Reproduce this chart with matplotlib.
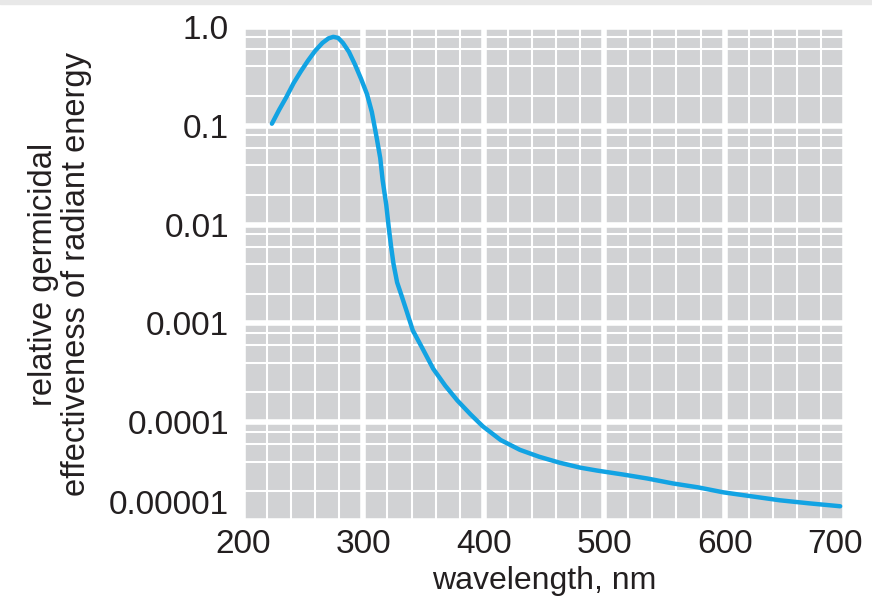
import matplotlib
matplotlib.use("Agg")
import matplotlib.pyplot as plt
import matplotlib.transforms as mtransforms
from matplotlib.ticker import LogLocator, MultipleLocator, FixedLocator, FixedFormatter
from matplotlib.patches import Rectangle

# germicidal action spectrum
wavelength = [224, 230, 236, 242, 248, 254, 260, 266, 271, 275, 279, 283, 288, 293, 298,
              303, 307, 311, 314, 316, 319, 321, 323, 325, 328, 332, 336, 341, 349, 358,
              368, 378, 389, 399, 414, 430, 446, 463, 480, 494, 516, 536, 557, 578, 599,
              622, 646, 670, 696]
effectiveness = [0.105, 0.145, 0.195, 0.27, 0.355, 0.457, 0.575, 0.69, 0.767, 0.795, 0.776,
                 0.69, 0.56, 0.417, 0.30, 0.209, 0.138, 0.076, 0.047, 0.028, 0.0158, 0.0095,
                 0.0060, 0.0040, 0.0026, 0.00186, 0.00132, 0.00085, 0.00056, 0.000347,
                 0.000234, 0.000166, 0.00012, 0.0000912, 0.000066, 0.0000525, 0.0000447,
                 0.0000389, 0.0000347, 0.0000324, 0.0000295, 0.0000269, 0.000024, 0.0000219,
                 0.0000195, 0.0000178, 0.0000162, 0.0000151, 0.0000141]

x_ticks = [200, 300, 400, 500, 600, 700]
y_ticks = [1e-5, 1e-4, 1e-3, 1e-2, 1e-1, 1.0]
y_labels = ["0.00001", "0.0001", "0.001", "0.01", "0.1", "1.0"]

plt.rcParams['font.family'] = ['Liberation Sans', 'DejaVu Sans']

fig = plt.figure(figsize=(8.72, 6.11), dpi=100)
fig.patches.append(Rectangle((0, 1 - 4 / 611), 1, 4 / 611, transform=fig.transFigure,
                             color="#e8e8e8", zorder=0))
ax = fig.add_axes([243 / 872, 1 - 521 / 611, (845 - 243) / 872, (521 - 27) / 611])
ax.set_facecolor("#d1d2d4")
for s in ax.spines.values():
    s.set_visible(False)

ax.plot(wavelength, effectiveness, color="#12a3e3", lw=3.2, solid_capstyle="round",
        solid_joinstyle="round", zorder=3)

ax.set_yscale("log")
ax.set_xlim(200, 700)
ax.set_ylim(1e-5, 1.0)

ax.xaxis.set_major_locator(FixedLocator(x_ticks))
ax.xaxis.set_minor_locator(MultipleLocator(20))
ax.yaxis.set_major_locator(FixedLocator(y_ticks))
ax.yaxis.set_major_formatter(FixedFormatter(y_labels))
ax.yaxis.set_minor_locator(LogLocator(base=10, subs=[2, 4, 6, 8]))
ax.yaxis.set_minor_formatter(FixedFormatter([]))

ax.set_axisbelow(True)
ax.grid(which="major", color="white", lw=4.0)
ax.grid(which="minor", color="white", lw=1.5)
ax.tick_params(which="both", length=0)
ax.tick_params(axis="y", labelsize=24, pad=10, labelcolor="#231f20")
ax.tick_params(axis="x", labelsize=24, pad=6, labelcolor="#231f20")

ax.set_xlabel("wavelength, nm", fontsize=23, color="#231f20", labelpad=4)
ax.set_ylabel("relative germicidal\neffectiveness of radiant energy", fontsize=23.5,
              color="#231f20", linespacing=1.1, labelpad=12)

fig.canvas.draw()
# bottom y label sits above the corner, last x label pulled in from the edge
ax.get_yticklabels()[0].set_va("bottom")
lbl = ax.get_xticklabels()[-1]
lbl.set_transform(lbl.get_transform() + mtransforms.ScaledTranslation(-10 / 100, 0, fig.dpi_scale_trans))

fig.savefig("out.png", dpi=100)
